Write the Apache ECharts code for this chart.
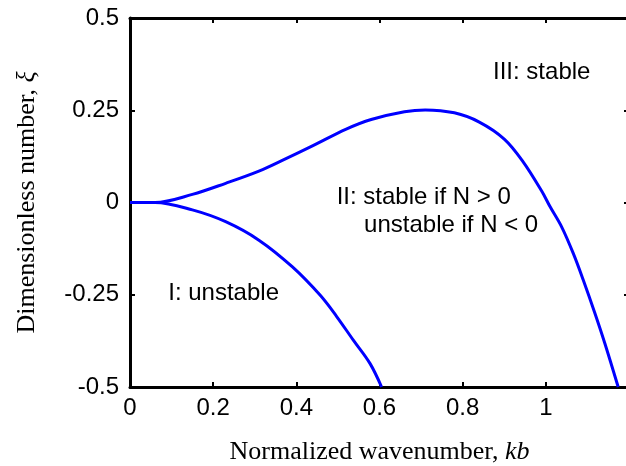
<!DOCTYPE html>
<html>
<head>
<meta charset="utf-8">
<script src="https://cdn.jsdelivr.net/npm/echarts@6/dist/echarts.min.js"></script>
<style>
html,body{margin:0;padding:0;background:#fff;}
#chart{width:626px;height:466px;}
</style>
</head>
<body>
<div id="chart"></div>
<script>
// Upper boundary (II / III)
var upperX = [0, 0.06, 0.15, 0.23, 0.31, 0.37, 0.44, 0.52, 0.58, 0.66, 0.71, 0.78, 0.84, 0.90, 0.945, 0.99, 1.01, 1.038, 1.066, 1.09, 1.118, 1.142, 1.174];
var upperY = [0, 0, 0.022, 0.052, 0.085, 0.116, 0.154, 0.199, 0.225, 0.246, 0.251, 0.243, 0.218, 0.172, 0.111, 0.031, -0.011, -0.066, -0.138, -0.21, -0.30, -0.382, -0.5];
// Lower boundary (I / II)
var lowerX = [0, 0.06, 0.15, 0.23, 0.31, 0.39, 0.457, 0.497, 0.537, 0.577, 0.605];
var lowerY = [0, 0, -0.02, -0.052, -0.102, -0.174, -0.251, -0.309, -0.373, -0.436, -0.5];
// Annotations
var noteText = ['III: stable', 'II: stable if N > 0', 'unstable if N < 0', 'I: unstable'];
var noteX = [0.873, 0.497, 0.563, 0.092];
var noteY = [0.351, 0.011, -0.066, -0.25];
var xTicks = [0, 0.2, 0.4, 0.6, 0.8, 1];
var yTicks = [-0.5, -0.25, 0, 0.25, 0.5];

function zip(a, b) { return a.map(function (v, i) { return [v, b[i]]; }); }

var chart = echarts.init(document.getElementById('chart'), null, {renderer: 'canvas'});
var sans = 'Liberation Sans, Arial, sans-serif';
var serif = 'Liberation Serif, Times New Roman, serif';
var axisLine = {show: true, onZero: false, lineStyle: {color: '#000', width: 3}};
var tickStyle = {show: true, inside: true, length: 5, lineStyle: {color: '#000', width: 2}};

var option = {
  animation: false,
  backgroundColor: '#fff',
  grid: {left: 130, top: 18, width: 499, height: 369, containLabel: false, outerBoundsMode: 'none'},
  xAxis: [{
    type: 'value', min: 0, max: 1.2, interval: 0.2, position: 'bottom',
    axisLine: axisLine, axisTick: tickStyle, splitLine: {show: false},
    axisLabel: {color: '#000', fontFamily: sans, fontSize: 24, margin: 9,
      formatter: function (v) { return xTicks.some(function (t) { return Math.abs(t - v) < 1e-9; }) ? String(Math.round(v * 10) / 10) : ''; }},
    name: '{a|Normalized wavenumber, }{b|kb}', nameLocation: 'middle', nameGap: 52,
    nameTextStyle: {rich: {
      a: {fontFamily: serif, fontSize: 26, color: '#000'},
      b: {fontFamily: serif, fontSize: 26, fontStyle: 'italic', color: '#000'}
    }}
  }, {
    type: 'value', min: 0, max: 1.2, interval: 0.2, position: 'top',
    axisLine: axisLine, axisTick: tickStyle, axisLabel: {show: false}, splitLine: {show: false}
  }],
  yAxis: [{
    type: 'value', min: -0.5, max: 0.5, interval: 0.25, position: 'left',
    axisLine: axisLine, axisTick: tickStyle, splitLine: {show: false},
    axisLabel: {color: '#000', fontFamily: sans, fontSize: 24, margin: 11,
      formatter: function (v) { return String(v); }},
    name: '{a|Dimensionless number, }{b|ξ}', nameLocation: 'middle', nameGap: 90,
    nameTextStyle: {rich: {
      a: {fontFamily: serif, fontSize: 26, color: '#000'},
      b: {fontFamily: serif, fontSize: 26, fontStyle: 'italic', color: '#000'}
    }}
  }, {
    type: 'value', min: -0.5, max: 0.5, interval: 0.25, position: 'right',
    axisLine: axisLine, axisTick: tickStyle, axisLabel: {show: false}, splitLine: {show: false}
  }],
  series: [{
    type: 'line', data: zip(upperX, upperY), showSymbol: false, symbol: 'none', smooth: 0.35,
    lineStyle: {color: '#0000ff', width: 3}, clip: true
  }, {
    type: 'line', data: zip(lowerX, lowerY), showSymbol: false, symbol: 'none', smooth: 0.35,
    lineStyle: {color: '#0000ff', width: 3}, clip: true
  }]
};
chart.setOption(option);

var graphics = noteText.map(function (t, i) {
  var p = chart.convertToPixel({gridIndex: 0}, [noteX[i], noteY[i]]);
  return {type: 'text', left: p[0], top: p[1] - 13,
    style: {text: t, fill: '#000', font: '24px ' + sans, textVerticalAlign: 'top'}};
});
chart.setOption({graphic: graphics});
</script>
</body>
</html>
